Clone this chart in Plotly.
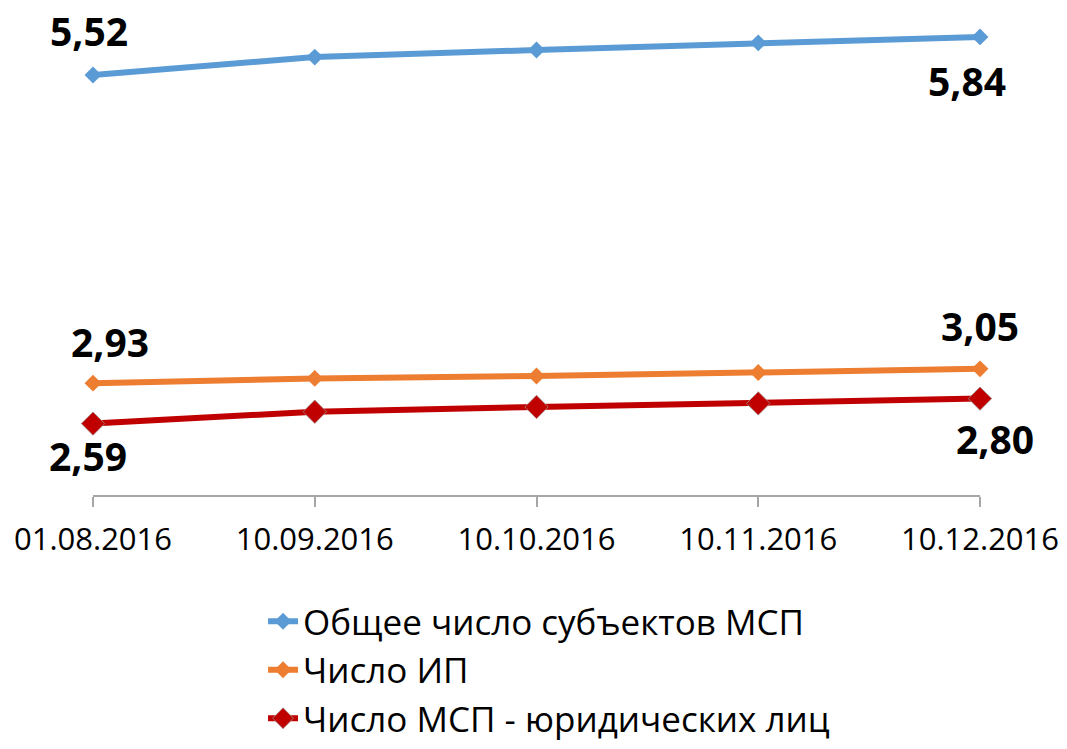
import plotly.graph_objects as go

categories = ["01.08.2016", "10.09.2016", "10.10.2016", "10.11.2016", "10.12.2016"]
total_msp = [5.52, 5.67, 5.73, 5.79, 5.84]
ip_count = [2.93, 2.97, 2.99, 3.02, 3.05]
legal_count = [2.59, 2.69, 2.73, 2.76, 2.80]

names = ["Общее число субъектов МСП", "Число ИП", "Число МСП - юридических лиц"]
colors = ["#5B9BD5", "#ED7D31", "#C00000"]

x = list(range(len(categories)))
fig = go.Figure()

fig.add_trace(go.Scatter(x=x, y=total_msp, name=names[0], mode="lines+markers",
                         line=dict(color=colors[0], width=6),
                         marker=dict(symbol="diamond", size=13, color=colors[0]),
                         cliponaxis=False))
fig.add_trace(go.Scatter(x=x, y=ip_count, name=names[1], mode="lines+markers",
                         line=dict(color=colors[1], width=6),
                         marker=dict(symbol="diamond", size=13, color=colors[1]),
                         cliponaxis=False))
fig.add_trace(go.Scatter(x=x, y=legal_count, name=names[2], mode="lines+markers",
                         line=dict(color=colors[2], width=6),
                         marker=dict(symbol="diamond", size=18, color=colors[2],
                                     line=dict(color="rgba(160,140,140,0.8)", width=1)),
                         cliponaxis=False))

def fmt(v):
    return f"{v:.2f}".replace(".", ",")

label_specs = [
    (total_msp, 0, -4, 44), (total_msp, 4, -13, -44),
    (ip_count, 0, 17, 42), (ip_count, 4, 0, 43),
    (legal_count, 0, -5, -32), (legal_count, 4, 15, -40),
]
for series, i, dx, dy in label_specs:
    fig.add_annotation(x=x[i], y=series[i], text=fmt(series[i]), showarrow=False,
                       xshift=dx, yshift=dy,
                       font=dict(family="Open Sans", size=39, color="#000000", weight="bold"))

fig.update_layout(
    width=1051, height=733,
    margin=dict(l=85, r=79, t=2, b=246, autoexpand=False),
    plot_bgcolor="white", paper_bgcolor="white",
    showlegend=True,
    legend=dict(x=0.1917, y=-0.2, xanchor="left", yanchor="top",
                font=dict(family="Open Sans", size=35, color="#000000"),
                bgcolor="rgba(0,0,0,0)"),
    xaxis=dict(range=[0, 4], tickmode="array", tickvals=x, ticktext=categories,
               showline=True, linecolor="#A6A6A6", linewidth=1.5,
               ticks="outside", ticklen=10, tickcolor="#A6A6A6", tickwidth=1.5,
               ticklabelstandoff=6, ticklabeloverflow="allow",
               showgrid=False, zeroline=False,
               tickfont=dict(family="Open Sans", size=31, color="#000000")),
    yaxis=dict(range=[1.99, 6.066], visible=False, showgrid=False, zeroline=False),
)

fig.write_html("out.html")
